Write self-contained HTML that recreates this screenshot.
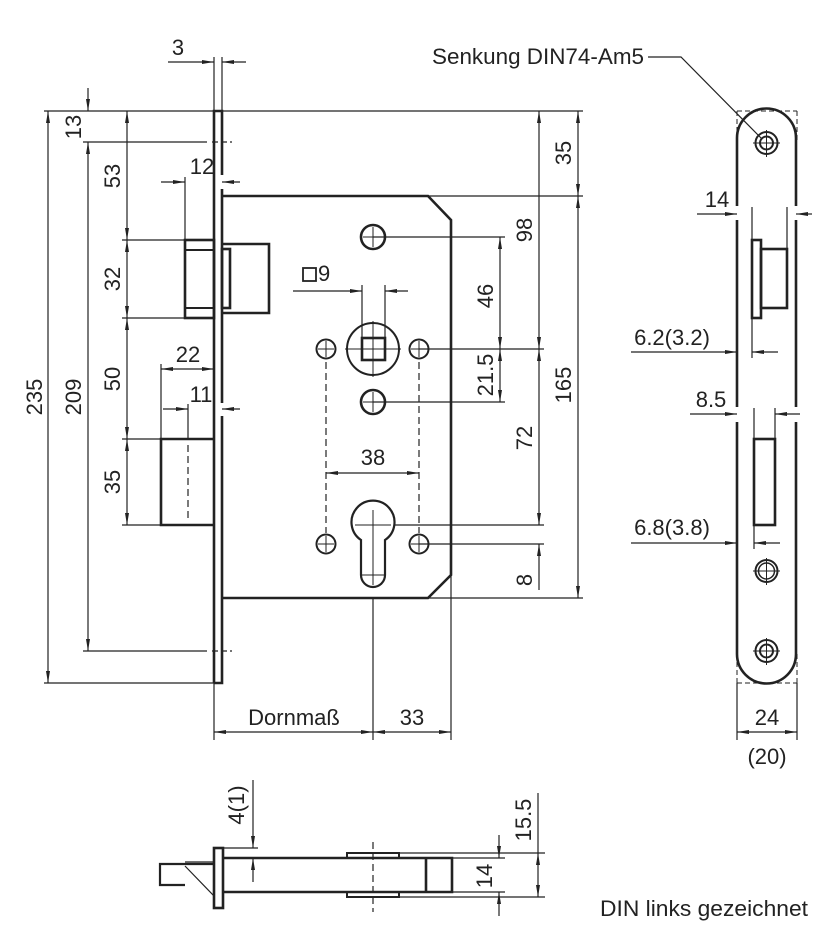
<!DOCTYPE html>
<html><head><meta charset="utf-8"><style>
html,body{margin:0;padding:0;background:#fff}
svg{display:block}
text{font-family:"Liberation Sans",sans-serif;font-size:22px;fill:#222}
</style></head><body>
<svg width="840" height="936" viewBox="0 0 840 936" xmlns="http://www.w3.org/2000/svg">
<defs>
<marker id="a" viewBox="0 0 12 4" refX="12" refY="2" markerWidth="12" markerHeight="4" markerUnits="userSpaceOnUse" orient="auto-start-reverse"><path d="M0,0L12,2L0,4z" fill="#222"/></marker>
</defs>
<g stroke="#222" stroke-width="1.2" fill="none">
<line x1="44" y1="111" x2="583" y2="111"/>
<line x1="44" y1="683" x2="214" y2="683"/>
<line x1="83" y1="142" x2="207" y2="142"/><line x1="212" y1="142" x2="232" y2="142" stroke-dasharray="6,3"/>
<line x1="83" y1="651" x2="207" y2="651"/><line x1="212" y1="651" x2="232" y2="651" stroke-dasharray="6,3"/>
<line x1="122" y1="240" x2="185" y2="240"/><line x1="122" y1="318" x2="185" y2="318"/>
<line x1="122" y1="439" x2="161" y2="439"/><line x1="122" y1="525" x2="161" y2="525"/>
<line x1="214" y1="57" x2="214" y2="111"/><line x1="222" y1="57" x2="222" y2="111"/>
<line x1="185" y1="177" x2="185" y2="240"/>
<line x1="161" y1="364" x2="161" y2="439"/>
<line x1="188" y1="404" x2="188" y2="439"/>
<line x1="428" y1="196" x2="583" y2="196"/><line x1="428" y1="598" x2="583" y2="598"/>
<line x1="373" y1="237" x2="505" y2="237"/><line x1="419" y1="349" x2="544" y2="349"/>
<line x1="373" y1="402" x2="505" y2="402"/><line x1="395" y1="525" x2="544" y2="525"/>
<line x1="419" y1="544" x2="544" y2="544"/>
<line x1="362" y1="285" x2="362" y2="349"/><line x1="385" y1="285" x2="385" y2="349"/>
<line x1="373" y1="598" x2="373" y2="740"/><line x1="451" y1="575" x2="451" y2="740"/>
<line x1="214" y1="683" x2="214" y2="740"/>
<g stroke-dasharray="7,4">
<line x1="326" y1="362" x2="326" y2="533"/><line x1="419" y1="362" x2="419" y2="533"/>
<line x1="188" y1="445" x2="188" y2="520"/>
<line x1="373" y1="842" x2="373" y2="912"/>
</g>
<line x1="48" y1="111" x2="48" y2="683" marker-start="url(#a)" marker-end="url(#a)"/>
<line x1="88" y1="88" x2="88" y2="111" marker-end="url(#a)"/>
<line x1="88" y1="142" x2="88" y2="651" marker-start="url(#a)" marker-end="url(#a)"/>
<line x1="127" y1="111" x2="127" y2="240" marker-start="url(#a)" marker-end="url(#a)"/>
<line x1="127" y1="240" x2="127" y2="318" marker-start="url(#a)" marker-end="url(#a)"/>
<line x1="127" y1="318" x2="127" y2="439" marker-start="url(#a)" marker-end="url(#a)"/>
<line x1="127" y1="439" x2="127" y2="525" marker-start="url(#a)" marker-end="url(#a)"/>
<line x1="578" y1="111" x2="578" y2="196" marker-start="url(#a)" marker-end="url(#a)"/>
<line x1="578" y1="196" x2="578" y2="598" marker-start="url(#a)" marker-end="url(#a)"/>
<line x1="539" y1="111" x2="539" y2="349" marker-start="url(#a)" marker-end="url(#a)"/>
<line x1="539" y1="349" x2="539" y2="525" marker-start="url(#a)" marker-end="url(#a)"/>
<line x1="539" y1="590" x2="539" y2="544" marker-end="url(#a)"/>
<line x1="500" y1="237" x2="500" y2="349" marker-start="url(#a)" marker-end="url(#a)"/>
<line x1="500" y1="349" x2="500" y2="402" marker-start="url(#a)" marker-end="url(#a)"/>
<line x1="168" y1="62" x2="214" y2="62" marker-end="url(#a)"/><line x1="246" y1="62" x2="222" y2="62" marker-end="url(#a)"/>
<line x1="161" y1="182" x2="185" y2="182" marker-end="url(#a)"/><line x1="240" y1="182" x2="222" y2="182" marker-end="url(#a)"/>
<line x1="161" y1="369" x2="214" y2="369" marker-start="url(#a)" marker-end="url(#a)"/>
<line x1="163" y1="409" x2="188" y2="409" marker-end="url(#a)"/><line x1="240" y1="409" x2="222" y2="409" marker-end="url(#a)"/>
<line x1="293" y1="291" x2="362" y2="291" marker-end="url(#a)"/><line x1="408" y1="291" x2="385" y2="291" marker-end="url(#a)"/>
<line x1="326" y1="473" x2="419" y2="473" marker-start="url(#a)" marker-end="url(#a)"/>
<line x1="214" y1="732" x2="373" y2="732" marker-start="url(#a)" marker-end="url(#a)"/>
<line x1="373" y1="732" x2="451" y2="732" marker-start="url(#a)" marker-end="url(#a)"/>
<line x1="737" y1="683" x2="737" y2="740"/><line x1="797" y1="683" x2="797" y2="740"/>
<line x1="737" y1="732" x2="797" y2="732" marker-start="url(#a)" marker-end="url(#a)"/>
<line x1="697" y1="214" x2="737" y2="214" marker-end="url(#a)"/><line x1="812" y1="214" x2="796" y2="214" marker-end="url(#a)"/>
<line x1="752" y1="207" x2="752" y2="240"/><line x1="787" y1="207" x2="787" y2="249"/>
<line x1="631" y1="352" x2="737" y2="352" marker-end="url(#a)"/><line x1="778" y1="352" x2="752" y2="352" marker-end="url(#a)"/>
<line x1="752" y1="318" x2="752" y2="358"/>
<line x1="690" y1="414" x2="737" y2="414" marker-end="url(#a)"/><line x1="800" y1="414" x2="775" y2="414" marker-end="url(#a)"/>
<line x1="754" y1="408" x2="754" y2="439"/><line x1="775" y1="408" x2="775" y2="439"/>
<line x1="631" y1="543" x2="737" y2="543" marker-end="url(#a)"/><line x1="780" y1="543" x2="754" y2="543" marker-end="url(#a)"/>
<line x1="754" y1="525" x2="754" y2="549"/>
<polyline points="648,57 681,57 762,139"/>
<line x1="253" y1="780" x2="253" y2="848" marker-end="url(#a)"/><line x1="253" y1="882" x2="253" y2="858" marker-end="url(#a)"/>
<line x1="223" y1="848" x2="258" y2="848"/>
<line x1="499" y1="835" x2="499" y2="858" marker-end="url(#a)"/><line x1="499" y1="916" x2="499" y2="892" marker-end="url(#a)"/>
<line x1="538" y1="793" x2="538" y2="853"/>
<line x1="538" y1="853" x2="538" y2="897" marker-start="url(#a)" marker-end="url(#a)"/>
<line x1="399" y1="853" x2="545" y2="853"/><line x1="399" y1="897" x2="545" y2="897"/>
<line x1="452" y1="858" x2="505" y2="858"/><line x1="452" y1="892" x2="505" y2="892"/>
<line x1="185" y1="866" x2="214" y2="896"/>
<line x1="185" y1="862" x2="214" y2="862"/>
</g>
<g stroke="#222" stroke-width="2.6" fill="none">
<path d="M214,683V111H222V175M222,189V403M222,416V683H214"/>
<path d="M222,196H428L451,220V575L428,598H222"/>
<rect x="185" y="240" width="29" height="78"/>
<line x1="185" y1="250" x2="214" y2="250" stroke-width="2"/><line x1="185" y1="308" x2="214" y2="308" stroke-width="2"/>
<path d="M222,244H269V313H222"/>
<rect x="222" y="249" width="8" height="59"/>
<path d="M214,439H161V525H214"/>
<circle cx="373" cy="237" r="12"/><circle cx="373" cy="402" r="12"/>
<circle cx="373" cy="349" r="26" stroke-width="2"/>
<rect x="362" y="338" width="23" height="22"/>
<circle cx="326" cy="349" r="9.5" stroke-width="2"/><circle cx="419" cy="349" r="9.5" stroke-width="2"/>
<circle cx="326" cy="544" r="9.5" stroke-width="2"/><circle cx="419" cy="544" r="9.5" stroke-width="2"/>
<path d="M361,540A21.5,21.5 0 1 1 385,540V575A12,12 0 0 1 361,575Z" stroke-width="2.2"/>
<path d="M737,206V138A29.5,29.5 0 0 1 796,138V206"/>
<path d="M737,220V407M796,220V407M737,422V654M796,422V654"/>
<path d="M737,654A29.5,29.5 0 0 0 796,654"/>
<rect x="752" y="240" width="9" height="78"/>
<rect x="761" y="249" width="26" height="59"/>
<rect x="754" y="439" width="21" height="86"/>
<circle cx="766.5" cy="143" r="11" stroke-width="2"/><circle cx="766.5" cy="143" r="6.5" stroke-width="2"/>
<circle cx="766.5" cy="571" r="11" stroke-width="2"/><circle cx="766.5" cy="571" r="8" stroke-width="1.5"/>
<circle cx="766.5" cy="651" r="11" stroke-width="2"/><circle cx="766.5" cy="651" r="6.5" stroke-width="2"/>
<rect x="214" y="848" width="9" height="60"/>
<path d="M223,858H452V892H223"/>
<line x1="426" y1="858" x2="426" y2="892"/>
<path d="M214,864H160V885H185" stroke-width="2.2"/>
<rect x="347" y="853" width="52" height="5" stroke-width="2"/>
<rect x="347" y="892" width="52" height="5" stroke-width="2"/>
<rect x="303" y="268" width="13" height="13" stroke-width="1.8"/>
</g>
<g stroke="#222" stroke-width="1" fill="none">
<path d="M363,237h20M373,227v20M363,402h20M373,392v20M318,349h16M326,341v16M411,349h16M419,341v16M318,544h16M326,536v16M411,544h16M419,536v16M345,349h56M373,321v56M373,510v75M355,525h36M362,575h22"/>
<path d="M753,143h27M766.5,130v27M753,571h27M766.5,558v27M753,651h27M766.5,638v27"/>
<path d="M737,111H797M737,111v30M797,111v30M737,683H797M737,683v-30M797,683v-30" stroke-dasharray="5,3"/>
</g>
<text x="178" y="55" text-anchor="middle">3</text>
<text x="202" y="174" text-anchor="middle">12</text>
<text x="188" y="362" text-anchor="middle">22</text>
<text x="201" y="402" text-anchor="middle">11</text>
<text x="318" y="281">9</text>
<text x="373" y="465" text-anchor="middle">38</text>
<text x="294" y="725" text-anchor="middle">Dornmaß</text>
<text x="412" y="725" text-anchor="middle">33</text>
<text x="767" y="725" text-anchor="middle">24</text>
<text x="767" y="764" text-anchor="middle">(20)</text>
<text x="717" y="207" text-anchor="middle">14</text>
<text x="672" y="345" text-anchor="middle">6.2(3.2)</text>
<text x="711" y="407" text-anchor="middle">8.5</text>
<text x="672" y="535" text-anchor="middle">6.8(3.8)</text>
<text x="432" y="64" textLength="212" lengthAdjust="spacingAndGlyphs">Senkung DIN74-Am5</text>
<text x="600" y="916" textLength="208" lengthAdjust="spacingAndGlyphs">DIN links gezeichnet</text>
<g text-anchor="middle">
<text transform="translate(42,397) rotate(-90)">235</text>
<text transform="translate(81,127) rotate(-90)">13</text>
<text transform="translate(81,397) rotate(-90)">209</text>
<text transform="translate(120,176) rotate(-90)">53</text>
<text transform="translate(120,279) rotate(-90)">32</text>
<text transform="translate(120,379) rotate(-90)">50</text>
<text transform="translate(120,482) rotate(-90)">35</text>
<text transform="translate(571,153) rotate(-90)">35</text>
<text transform="translate(571,385) rotate(-90)">165</text>
<text transform="translate(532,230) rotate(-90)">98</text>
<text transform="translate(532,438) rotate(-90)">72</text>
<text transform="translate(532,580) rotate(-90)">8</text>
<text transform="translate(493,296) rotate(-90)">46</text>
<text transform="translate(493,375) rotate(-90)">21.5</text>
<text transform="translate(244,805) rotate(-90)">4(1)</text>
<text transform="translate(492,876) rotate(-90)">14</text>
<text transform="translate(531,820) rotate(-90)">15.5</text>
</g>
</svg>
</body></html>
